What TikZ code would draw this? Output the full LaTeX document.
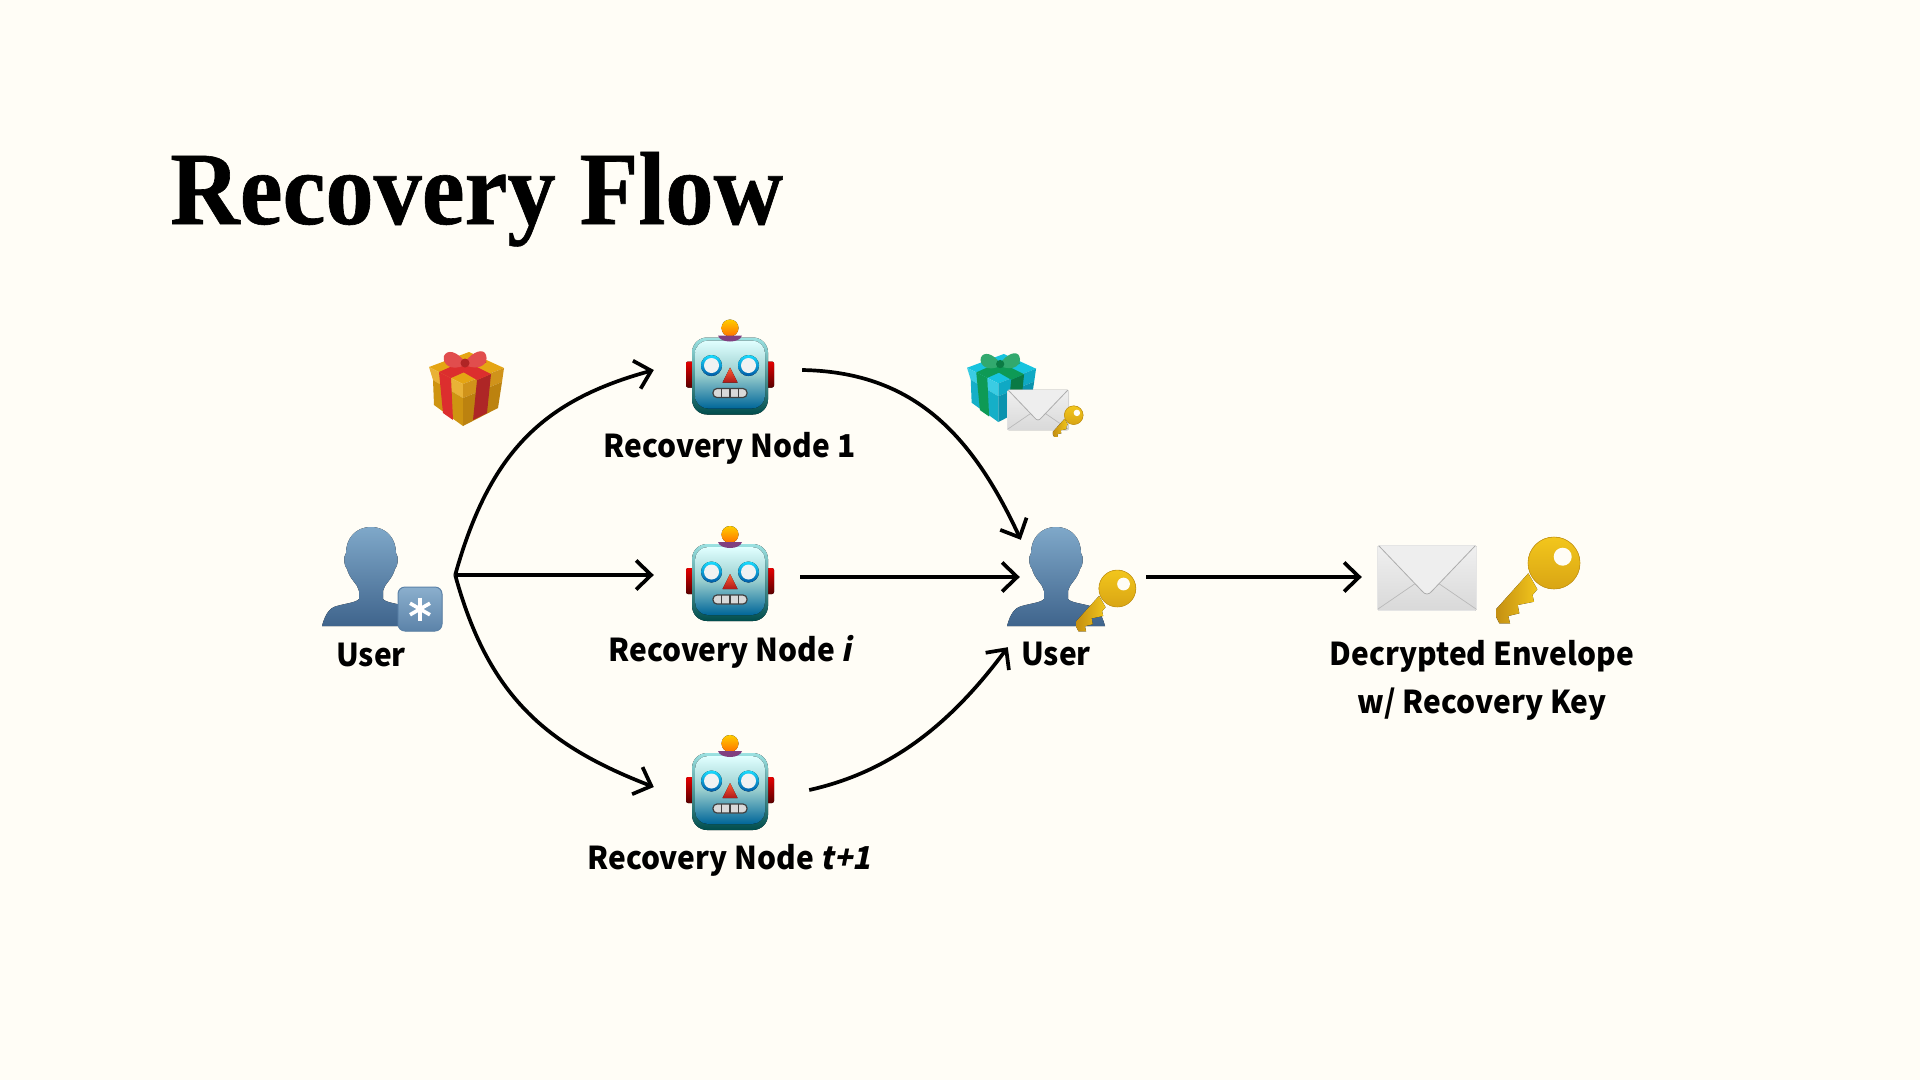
\documentclass[tikz,border=0pt]{standalone}
\usepackage{fontspec}
\usepackage{xcolor}
\usetikzlibrary{arrows.meta}
\newfontfamily\ttlfont[FakeStretch=0.927,BoldFeatures={FakeBold=0.6}]{Liberation Serif}
\newfontfamily\lblfont[FakeStretch=0.95]{Noto Sans CJK SC}
\newfontfamily\lblslant[FakeStretch=0.95,BoldFeatures={FakeSlant=0.2}]{Noto Sans CJK SC}
\definecolor{paper}{HTML}{FFFDF6}
\definecolor{giftA}{HTML}{E5A513}
\definecolor{giftB}{HTML}{D0931A}
\definecolor{giftC}{HTML}{BC820F}
\definecolor{bowA}{HTML}{DC2E2E}
\definecolor{bowB}{HTML}{AE2626}
\definecolor{tealA}{HTML}{17C3DE}
\definecolor{tealB}{HTML}{0FA9C4}
\definecolor{tealC}{HTML}{0B93AE}
\definecolor{ribA}{HTML}{0E9A55}
\definecolor{ribB}{HTML}{0A7A45}
\definecolor{skinTop}{HTML}{7FA8C9}
\definecolor{skinBot}{HTML}{3F648C}
\definecolor{chipTop}{HTML}{8BAFCD}
\definecolor{chipBot}{HTML}{5C83A9}
\definecolor{keyTop}{HTML}{F2C61C}
\definecolor{keyBot}{HTML}{D9A514}
\definecolor{keyDark}{HTML}{C48F12}
\tikzset{
    hub/.style={minimum width=#1, minimum height=74, inner sep=0pt},
    lbl/.style={font=\lblfont\bfseries\fontsize{31.5}{48}\selectfont, text=black, anchor=base, inner sep=0pt},
    flow/.style={line width=3.7pt, -{Straight Barb[length=15pt,width=29pt,line width=3.7pt]}},
    % robot face, centred on its head
    pics/robot/.style={code={
        \fill [top color=red!90!black, bottom color=red!35!black, rounded corners=2pt] (-44,-6) rectangle (44,20);
        \fill [top color=orange!40!yellow, bottom color=orange!90!red] (0,-39.5) circle (8.5);
        \fill [top color=gray!45!cyan!50, bottom color=teal!60!black, rounded corners=15pt] (-38,-30) rectangle (38,47);
        \fill [top color=cyan!12, bottom color=teal!80!blue, middle color=cyan!35!gray!60, rounded corners=13pt] (-35,-27) rectangle (35,41);
        \fill [fill=violet!50!gray] (-12,-32) -- (12,-32) .. controls (10,-24) and (-10,-24) .. (-12,-32) -- cycle;
        \foreach \e in {-18.5,18.5} {
            \fill [top color=cyan!85!blue!90, bottom color=teal!70!blue] (\e,-2) circle (10.5);
            \fill [fill=cyan!6!gray!12] (\e,-2) circle (7.5);
        }
        \fill [top color=red!60!orange!80, bottom color=red!65!black!90] (0,0) -- (7.5,15) -- (-7.5,15) -- cycle;
        \draw [line width=1.2pt, fill=gray!30, draw=black!75, rounded corners=4pt] (-17,21) rectangle (17,30);
        \foreach \e in {-8.5,0,8.5} \draw [line width=1.2pt, draw=black!75] (\e,21) -- (\e,30);
    }},
    % head and shoulders
    pics/person/.style={code={
        \fill [top color=skinTop, bottom color=skinBot]
            (0,-50) .. controls (-16,-50) and (-25,-38) .. (-25,-24)
            .. controls (-28,-20) and (-27,-11) .. (-24,-8)
            .. controls (-21,3) and (-13,7) .. (-12,14)
            -- (-12,22) .. controls (-15,26) and (-30,27) .. (-37,30)
            .. controls (-44,33) and (-47,42) .. (-49,49)
            -- (49,49) .. controls (47,42) and (44,33) .. (37,30)
            .. controls (30,27) and (15,26) .. (12,22)
            -- (12,14) .. controls (13,7) and (21,3) .. (24,-8)
            .. controls (27,-11) and (28,-20) .. (25,-24)
            .. controls (25,-38) and (16,-50) .. (0,-50) -- cycle;
    }},
    pics/badge/.style={code={
        \fill [top color=chipTop, bottom color=chipBot, draw=chipBot, line width=1pt, rounded corners=7pt] (-22,-22) rectangle (22,22);
        \foreach \a in {90,150,210} \draw [white, line width=3.6pt] (\a:-11.5) -- (\a:11.5);
    }},
    pics/giftbox/.style n args={5}{code={
        \fill [fill=#1] (-38,-22) -- (2,-37) -- (37,-21) -- (-4,-5) -- cycle;
        \fill [fill=#1!85!white] (-38,-22) -- (-4,-5) -- (-4,9) -- (-34,-9) -- cycle;
        \fill [fill=#2] (37,-21) -- (-4,-5) -- (-4,9) -- (35,-7) -- cycle;
        \fill [fill=#1!90!black] (-34,-9) -- (-4,9) -- (-4,37) -- (-33,16) -- cycle;
        \fill [fill=#3] (35,-7) -- (-4,9) -- (-4,37) -- (31,19) -- cycle;
        % ribbons
        \fill [fill=#4] (-28,-17) -- (-16,-11) -- (-14,31) -- (-24,24) -- cycle;
        \fill [fill=#5] (10,-9) -- (24,-15) -- (20,24) -- (6,31) -- cycle;
        \fill [fill=#4] (-28,-17) -- (-16,-11) -- (20,-27) -- (8,-33) -- cycle;
        \fill [fill=#4] (10,-9) -- (24,-15) -- (-10,-32) -- (-23,-28) -- cycle;
        % bow
        \fill [fill=#4!85!white] (-2,-27) .. controls (-10,-38) and (-20,-40) .. (-23,-33) .. controls (-25,-25) and (-16,-17) .. (-2,-24) -- cycle;
        \fill [fill=#4!85!white] (-2,-27) .. controls (6,-38) and (17,-41) .. (19,-34) .. controls (22,-26) and (13,-17) .. (-2,-24) -- cycle;
        \fill [fill=#4!80!black] (-2,-26) circle (4.5);
    }},
    pics/envelope/.style={code={
        \fill [top color=gray!12, bottom color=gray!30, draw=gray!20, line width=0.6pt, rounded corners=1.5pt] (-49.5,-32.5) rectangle (49.5,32.5);
        \draw [gray!55, line width=0.7pt] (-49,31) -- (-11,5);
        \draw [gray!55, line width=0.7pt] (49,31) -- (11,5);
        \draw [gray!65, line width=0.8pt, fill=gray!13] (-48,-32) -- (-5,13) .. controls (-2,17) and (2,17) .. (5,13) -- (48,-32);
    }},
    pics/goldkey/.style={code={
        \fill [left color=keyDark, right color=keyTop]
            (-9.7,-8.7) -- (-42,27.3) -- (-42,34.7) -- (-38.7,41.3) -- (-28,41.3) -- (-29.7,34) -- (-18.7,31.3) -- (-20.3,23) -- (-4,19.7) -- (-5.5,13) -- (-0.7,7.3) -- cycle;
        \fill [top color=keyTop, bottom color=keyBot, draw=keyDark!80!keyTop, line width=0.6pt] (16,-19) circle (26);
        \fill [fill=paper] (24.7,-25.3) circle (9);
    }},
}
\begin{document}
\begin{tikzpicture}[x=1pt,y=-1pt]
    \useasboundingbox [fill=paper] (0,0) rectangle (1920,1080);

    \node [font=\ttlfont\bfseries\fontsize{104}{120}\selectfont, anchor=base west, inner sep=0pt] (title) at (170,224) {Recovery Flow};

    % Anchors the connectors hang on
    \node [hub=168] (userA) at (371,575) {};
    \node [hub=150] (rnA) at (729,370) {};
    \node [hub=150] (rnB) at (729,575) {};
    \node [hub=150] (rnC) at (729,787) {};
    \node [hub=72] (userB) at (1056,577) {};
    \node [hub=204] (envOut) at (1464,577) {};

    % Icons
    \pic at (371,577) {person};
    \pic at (420,609) {badge};
    \pic at (1056,577) {person};
    \pic [scale=0.71] at (1106,602) {goldkey};
    \pic at (730,367.5) {robot};
    \pic at (730,574) {robot};
    \pic at (730,783) {robot};
    \pic at (467,389) {giftbox={giftA}{giftB}{giftC}{bowA}{bowB}};
    \pic [scale=0.92] at (1002,388) {giftbox={tealA}{tealB}{tealC}{ribA}{ribB}};
    \pic [scale=0.62] at (1038,410) {envelope};
    \pic [scale=0.36] at (1068,422) {goldkey};
    \pic at (1427,578) {envelope};
    \pic at (1538,582) {goldkey};

    % Labels
    \node [lbl] (lblUserA) at (371,666) {User};
    \node [lbl] (lblA) at (729.5,457) {Recovery Node 1};
    \node [lbl] (lblB) at (730,661) {Recovery Node {\lblslant\bfseries i}};
    \node [lbl] (lblC) at (729,869) {Recovery Node {\lblslant\bfseries t+1}};
    \node [lbl] (lblUserB) at (1056,665) {User};
    \node [lbl] (lblEnvA) at (1482,665) {Decrypted Envelope};
    \node [lbl] (lblEnvB) at (1482,713) {w/ Recovery Key};

    % Arrows
    \draw [flow] (userA.east) .. controls (490,450) and (545,400) .. (rnA.west);
    \draw [flow] (userA.east) -- (rnB.west);
    \draw [flow] (userA.east) .. controls (488,695) and (545,745) .. (rnC.west);
    \draw [flow] ([xshift=-2]rnA.east) .. controls (910,372) and (970,430) .. ([xshift=1]userB.north west);
    \draw [flow] ([xshift=-4,yshift=-2]rnB.east) -- (userB.west);
    \draw [flow] ([xshift=5,yshift=-3]rnC.east) .. controls (890,772) and (950,725) .. ([xshift=-12,yshift=-33]userB.south west);
    \draw [flow] ([xshift=54]userB.east) -- (envOut.west);
\end{tikzpicture}
\end{document}
